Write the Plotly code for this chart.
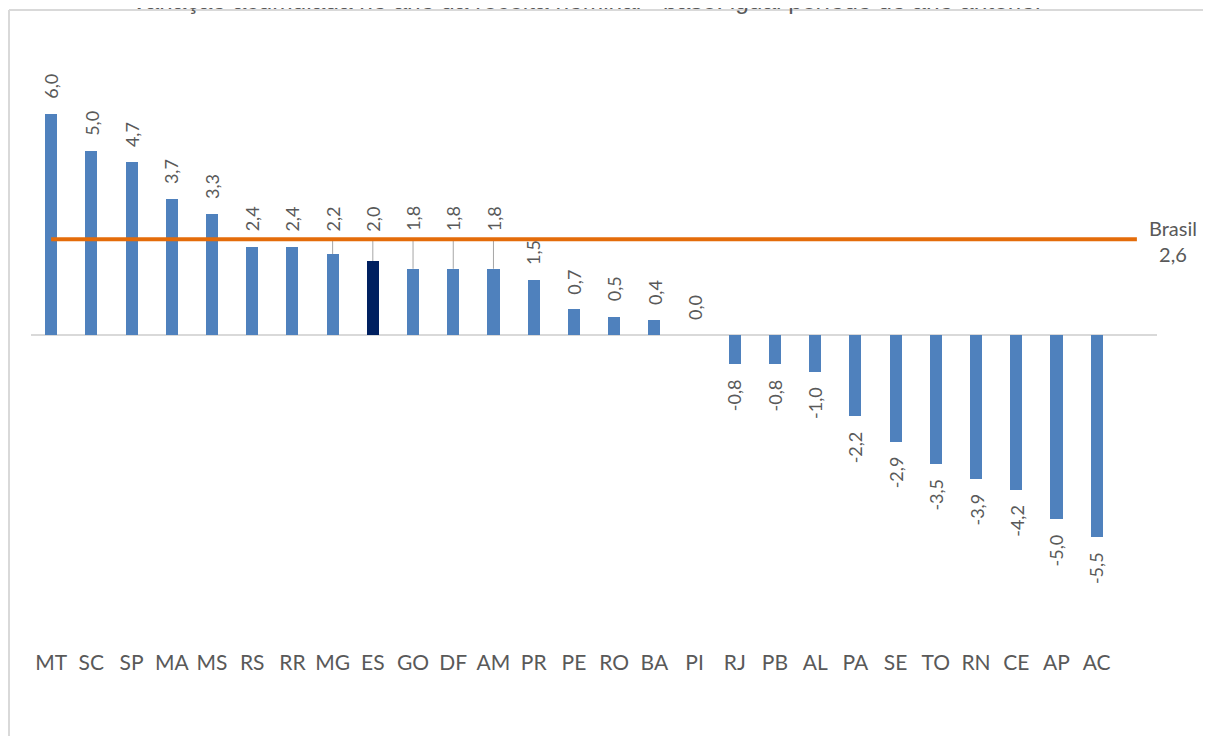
import plotly.graph_objects as go

estados = ["MT", "SC", "SP", "MA", "MS", "RS", "RR", "MG", "ES", "GO", "DF", "AM", "PR", "PE",
           "RO", "BA", "PI", "RJ", "PB", "AL", "PA", "SE", "TO", "RN", "CE", "AP", "AC"]
variacao = [6.0, 5.0, 4.7, 3.7, 3.3, 2.4, 2.4, 2.2, 2.0, 1.8, 1.8, 1.8, 1.5, 0.7,
            0.5, 0.4, 0.0, -0.8, -0.8, -1.0, -2.2, -2.9, -3.5, -3.9, -4.2, -5.0, -5.5]
brasil = 2.6
destaque = "ES"
com_guia = ["MG", "ES", "GO", "DF", "AM"]
titulo = "Variação acumulada no ano da receita nominal - base: igual período do ano anterior"

AZUL = "#4F81BD"
MARINHO = "#002060"
LARANJA = "#E46C0A"
CINZA_TXT = "#595959"
CINZA_MOLDURA = "#D9D9D9"

# plot area in figure pixels
PL, PR_, PT, PB_ = 23, 1149, 51, 640
W, H = 1195, 728


def px_x(p):
    return (p - PL) / (PR_ - PL)


def px_y(p):
    return (PB_ - p) / (PB_ - PT)


def fmt(v):
    return f"{v:.1f}".replace(".", ",")


n = len(estados)
xs = list(range(n))
cores = [MARINHO if e == destaque else AZUL for e in estados]

fig = go.Figure()
fig.add_trace(go.Bar(x=xs, y=variacao, marker=dict(color=cores, line=dict(width=0)),
                     width=0.3, hoverinfo="skip", showlegend=False))
fig.add_trace(go.Scatter(x=[0, n], y=[brasil, brasil], mode="lines",
                         line=dict(color=LARANJA, width=4), hoverinfo="skip", showlegend=False))

lbl_font = dict(family="Lato", size=18, color=CINZA_TXT)
for i, (e, v) in enumerate(zip(estados, variacao)):
    if e in com_guia:
        fig.add_shape(type="line", x0=i, x1=i, y0=v, y1=brasil, xref="x", yref="y",
                      line=dict(color="#A6A6A6", width=1), layer="below")
        fig.add_annotation(x=i, y=brasil, yshift=7, text=fmt(v), textangle=-90, showarrow=False,
                           xanchor="center", yanchor="bottom", font=lbl_font, borderpad=0)
    elif v >= 0:
        fig.add_annotation(x=i, y=v, yshift=14, text=fmt(v), textangle=-90, showarrow=False,
                           xanchor="center", yanchor="bottom", font=lbl_font, borderpad=0)
    else:
        fig.add_annotation(x=i, y=v, yshift=-14, text=fmt(v), textangle=-90, showarrow=False,
                           xanchor="center", yanchor="top", font=lbl_font, borderpad=0)

fig.add_annotation(x=n, y=brasil, xshift=10, yshift=-2, text=f"Brasil<br>{fmt(brasil)}", showarrow=False,
                   xanchor="left", yanchor="middle", align="center",
                   font=dict(family="Lato", size=20, color=CINZA_TXT))

# title (partly cut at the top of the image, as in the original)
fig.add_annotation(xref="paper", yref="paper", x=px_x(579), y=px_y(8),
                   text=titulo, showarrow=False, xanchor="center", yanchor="bottom",
                   font=dict(family="Liberation Sans", size=24.5, color=CINZA_TXT))

# chart frame: left and top edges (the others fall outside the picture)
fig.add_shape(type="line", xref="paper", yref="paper",
              x0=px_x(1), x1=px_x(1), y0=px_y(2), y1=px_y(H),
              line=dict(color=CINZA_MOLDURA, width=2))
fig.add_shape(type="line", xref="paper", yref="paper",
              x0=px_x(1), x1=px_x(W), y0=px_y(2), y1=px_y(2),
              line=dict(color=CINZA_MOLDURA, width=2))

fig.update_layout(
    width=W, height=H,
    margin=dict(l=PL, r=W - PR_, t=PT, b=H - PB_),
    paper_bgcolor="white", plot_bgcolor="white",
    bargap=0,
    xaxis=dict(range=[-0.5, n + 0.5], tickvals=xs, ticktext=estados, showgrid=False,
               zeroline=False, showline=False, ticks="",
               tickfont=dict(family="Lato", size=21, color=CINZA_TXT), fixedrange=True),
    yaxis=dict(range=[(335 - 648) / 36.8, (335 - 59) / 36.8], showgrid=False, showticklabels=False,
               zeroline=True, zerolinecolor="#D9D9D9", zerolinewidth=1.5, showline=False, ticks="",
               fixedrange=True),
)

fig.write_html("out.html")
